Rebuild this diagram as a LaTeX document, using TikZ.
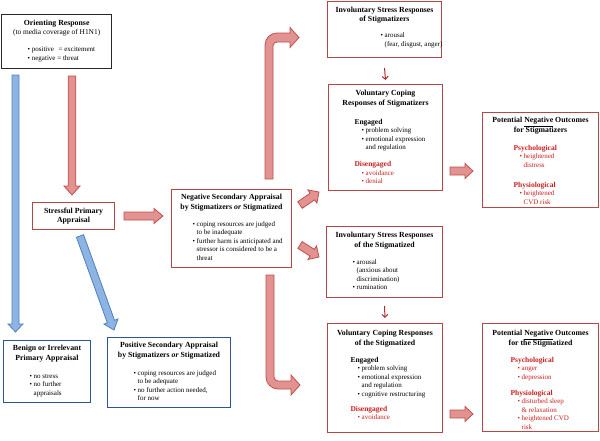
\documentclass[tikz,border=0pt]{standalone}
\usepackage{fontspec}
\setmainfont{Liberation Serif}
\usetikzlibrary{calc,arrows.meta}
\definecolor{rline}{RGB}{185,70,70}
\definecolor{rfill}{RGB}{226,146,144}
\definecolor{rarrline}{RGB}{192,80,77}
\definecolor{rthin}{RGB}{170,45,45}
\definecolor{bline}{RGB}{79,129,189}
\definecolor{bfill}{RGB}{141,180,226}
\definecolor{bbox}{RGB}{44,84,150}
\definecolor{rtext}{RGB}{200,30,30}
\definecolor{kline}{RGB}{40,40,40}

\newcommand\boxttl{\fontsize{7.8}{9.3}\selectfont\bfseries}
\newcommand\subttl{\fontsize{7.5}{8.5}\selectfont\bfseries}
\newcommand\boxbody{\fontsize{7}{8.5}\selectfont}
\newcommand\bull{\textbullet\ }
\newcommand\tline[2]{\hspace*{#1pt}\mbox{#2}\par}
\newcommand\rtline[2]{\hspace*{#1pt}\mbox{\color{rtext}#2}\par}
\newcommand\boxnode[7]{\node[#1,anchor=north west,inner sep=0pt] (#2) at (#3,#4) {\parbox[c][#6pt][t]{#5pt}{#7}};}
\newcommand\blockarr[6]{%
  \coordinate (tmpC) at ($(#3)!#6!(#2)$);
  \draw[#1] ($(#2)!#4!90:(#3)$) -- ($(tmpC)!#4!90:(#3)$) -- ($(tmpC)!#5!90:(#3)$) -- (#3)
    -- ($(tmpC)!#5!-90:(#3)$) -- ($(tmpC)!#4!-90:(#3)$) -- ($(#2)!#4!-90:(#3)$) -- cycle;}

\begin{document}
\begin{tikzpicture}[x=1pt,y=-1pt,
  redbox/.style={draw=rline,line width=1pt},
  bluebox/.style={draw=bbox,line width=1pt},
  blackbox/.style={draw=kline,line width=1.3pt},
  redarr/.style={draw=rarrline,fill=rfill,line width=0.8pt},
  bluearr/.style={draw=bline,fill=bfill,line width=0.8pt},
  thinarr/.style={draw=rthin,line width=1pt,-{Straight Barb[length=3pt,width=6pt]}}]
\useasboundingbox (0,0) rectangle (600,440);

% ---------- boxes ----------
\boxnode{blackbox}{orient}{1}{14}{110}{54}{%
  \vspace*{5.6pt}{\centering\boxttl Orienting Response\par}
  {\centering\fontsize{7.4}{9}\selectfont(to media coverage of H1N1)\par}
  \vspace{8.5pt}
  {\boxbody\tline{26}{\bull positive\ \ \,= excitement}\tline{26}{\bull negative = threat}}}

\boxnode{redbox}{stress}{32}{202}{82}{27}{%
  \vspace*{5.6pt}{\centering\boxttl Stressful Primary\\Appraisal\par}}

\boxnode{bluebox}{benign}{3}{340}{87}{62}{%
  \vspace*{5pt}{\centering\boxttl Benign or Irrelevant\\Primary Appraisal\par}
  \vspace{9.5pt}
  {\boxbody\tline{26}{\bull no stress}\tline{26}{\bull no further}\tline{26}{\phantom{\bull}appraisals}}}

\boxnode{bluebox}{posit}{107}{337}{123}{70}{%
  \vspace*{5pt}{\centering\boxttl Positive Secondary Appraisal\\by Stigmatizers \textit{or} Stigmatized\par}
  \vspace{9.5pt}
  {\boxbody\tline{26}{\bull coping resources are judged}\tline{26}{\phantom{\bull}to be adequate}%
   \tline{26}{\bull no further action needed,}\tline{26}{\phantom{\bull}for now}}}

\boxnode{redbox}{negat}{171}{189}{120}{78}{%
  \vspace*{5pt}{\centering\boxttl Negative Secondary Appraisal\\by Stigmatizers \textit{or} Stigmatized\par}
  \vspace{8.5pt}
  {\boxbody\tline{21}{\bull coping resources are judged}\tline{21}{\phantom{\bull}to be inadequate}%
   \tline{21}{\bull further harm is anticipated and}\tline{21}{\phantom{\bull}stressor is considered to be a}%
   \tline{21}{\phantom{\bull}threat}}}

\boxnode{redbox}{invA}{327}{0.5}{114}{56.5}{%
  \vspace*{5.6pt}{\centering\boxttl Involuntary Stress Responses\\of Stigmatizers\par}
  \vspace{7.7pt}
  {\boxbody\tline{53}{\bull arousal}\tline{53}{\phantom{\bull}(fear, disgust, anger)}}}

\boxnode{redbox}{volA}{328}{84}{114}{106}{%
  \vspace*{6pt}{\centering\boxttl Voluntary Coping\\Responses of Stigmatizers\par}
  \vspace{10.5pt}
  {\subttl\tline{26}{Engaged}}
  {\boxbody\tline{33}{\bull problem solving}\tline{33}{\bull emotional expression}\tline{33}{\phantom{\bull}and regulation}}
  \vspace{8.5pt}
  {\subttl\rtline{26}{Disengaged}}
  {\boxbody\rtline{33}{\bull avoidance}\rtline{33}{\bull denial}}}

\boxnode{redbox}{outA}{482}{112}{116}{95}{%
  \vspace*{5pt}{\centering\boxttl Potential \underline{Negative} Outcomes\\for Stigmatizers\par}
  \vspace{9.5pt}
  {\subttl\rtline{31}{Psychological}}
  {\boxbody\rtline{37}{\bull heightened}\rtline{37}{\phantom{\bull}distress}}
  \vspace{11.5pt}
  {\subttl\rtline{31}{Physiological}}
  {\boxbody\rtline{37}{\bull heightened}\rtline{37}{\phantom{\bull}CVD risk}}}

\boxnode{redbox}{invB}{326}{226}{116}{71}{%
  \vspace*{6pt}{\centering\boxttl Involuntary Stress Responses\\of the Stigmatized\par}
  \vspace{8.5pt}
  {\boxbody\tline{26}{\bull arousal}\tline{26}{\phantom{\bull}(anxious about}\tline{26}{\phantom{\bull}discrimination)}\tline{26}{\bull rumination}}}

\boxnode{redbox}{volB}{327}{323}{115}{109}{%
  \vspace*{7pt}{\centering\boxttl Voluntary Coping Responses\\of the Stigmatized\par}
  \vspace{8.5pt}
  {\subttl\tline{23}{Engaged}}
  {\boxbody\tline{30}{\bull problem solving}\tline{30}{\bull emotional expression}\tline{30}{\phantom{\bull}and regulation}\tline{30}{\bull cognitive restructuring}}
  \vspace{6.5pt}
  {\subttl\rtline{23}{Disengaged}}
  {\boxbody\rtline{30}{\bull avoidance}}}

\boxnode{redbox}{outB}{482}{323}{116}{108}{%
  \vspace*{7pt}{\centering\boxttl Potential \underline{Negative} Outcomes\\for the Stigmatized\par}
  \vspace{8.5pt}
  {\subttl\rtline{28}{Psychological}}
  {\boxbody\rtline{35}{\bull anger}\rtline{35}{\bull depression}}
  \vspace{7.5pt}
  {\subttl\rtline{28}{Physiological}}
  {\boxbody\rtline{35}{\bull disturbed sleep}\rtline{35}{\phantom{\bull}\& relaxation}\rtline{35}{\bull heightened CVD}\rtline{35}{\phantom{\bull}risk}}}

% ---------- arrow end points ----------
\coordinate (b1s) at (15.5,75);  \coordinate (b1e) at (15.5,332);
\coordinate (r1s) at (72,76);    \coordinate (r1e) at (72,195);
\coordinate (r2s) at (124,216);  \coordinate (r2e) at (163,216);
\coordinate (b2s) at (80,236);   \coordinate (b2e) at (114,330);
\coordinate (r3s) at (300,205);  \coordinate (r3e) at (319,192);
\coordinate (r4s) at (300,245);  \coordinate (r4e) at (319,257);
\coordinate (r5s) at (450,171);  \coordinate (r5e) at (473,171);
\coordinate (r6s) at (450,414);  \coordinate (r6e) at (473,414);

\blockarr{bluearr}{b1s}{b1e}{3.5pt}{7.5pt}{8pt}
\blockarr{redarr}{r1s}{r1e}{3.8pt}{8pt}{9pt}
\blockarr{redarr}{r2s}{r2e}{4pt}{7.5pt}{9pt}
\blockarr{bluearr}{b2s}{b2e}{3.8pt}{7.5pt}{9pt}
\blockarr{redarr}{r3s}{r3e}{4pt}{8pt}{8pt}
\blockarr{redarr}{r4s}{r4e}{4pt}{8pt}{8pt}
\blockarr{redarr}{r5s}{r5e}{4pt}{7.5pt}{8pt}
\blockarr{redarr}{r6s}{r6e}{4pt}{7.5pt}{8pt}

% bent arrows
\draw[redarr] (265,179) -- (265,45) .. controls (265,38.4) and (270.4,33) .. (277,33)
  -- (290,33) -- (290,27.5) -- (299,37.5) -- (290,47.5) -- (290,42) -- (277,42)
  .. controls (274.8,42) and (273,43.8) .. (273,46) -- (273,179) -- cycle;
\draw[redarr] (266,275) -- (266,377) .. controls (266,383.6) and (271.4,389) .. (278,389)
  -- (291,389) -- (291,395) -- (300,385) -- (291,375) -- (291,381) -- (278,381)
  .. controls (275.8,381) and (274,379.2) .. (274,377) -- (274,275) -- cycle;

% thin arrows
\draw[thinarr] ([yshift=-10pt]invA.south) -- ([yshift=4pt]volA.north);
\draw[thinarr] ([yshift=-8pt]invB.south) -- ([yshift=5pt]volB.north);
\end{tikzpicture}
\end{document}
